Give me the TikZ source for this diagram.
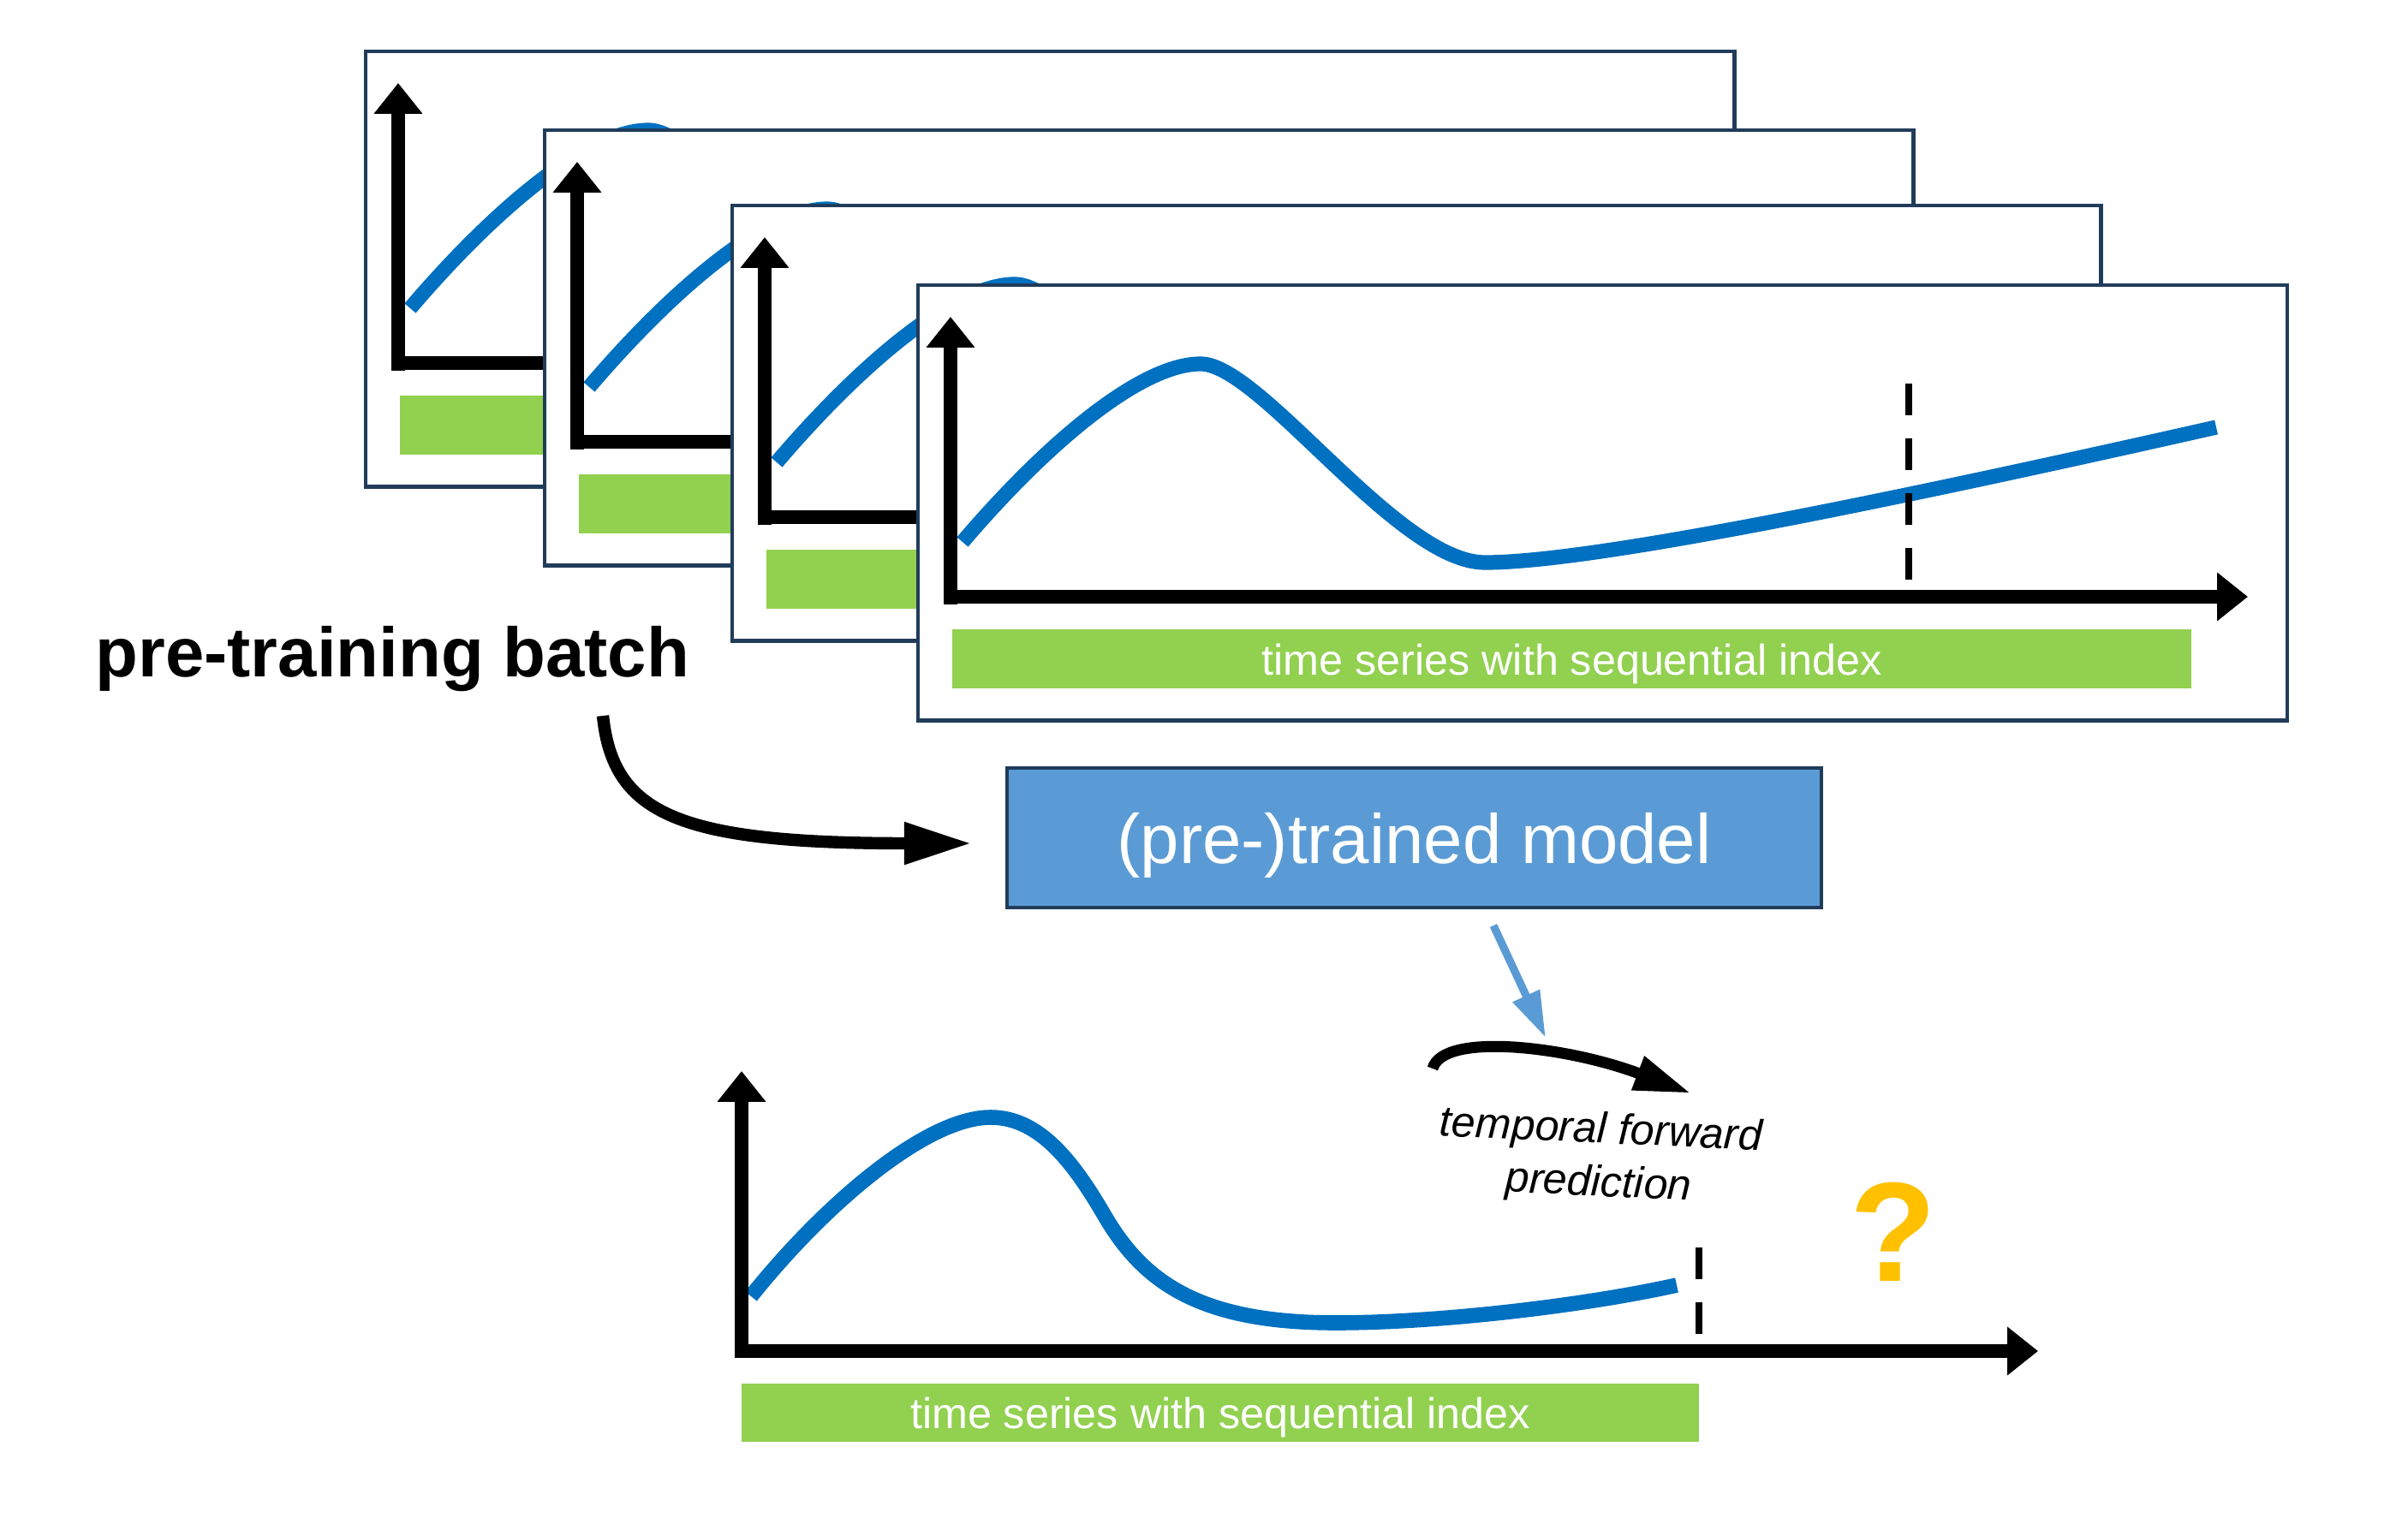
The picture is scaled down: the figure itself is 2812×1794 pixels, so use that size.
\documentclass[tikz,border=0pt]{standalone}
\usepackage{fontspec}
\setmainfont{Liberation Sans}
\usetikzlibrary{arrows.meta}
\definecolor{framecol}{RGB}{33,60,90}
\definecolor{curveblue}{HTML}{0070C0}
\definecolor{bargreen}{HTML}{92D050}
\definecolor{modelblue}{HTML}{5B9BD5}
\definecolor{qorange}{HTML}{FFC000}
\tikzset{
  panel/.style={draw=framecol, line width=1.4pt, fill=white, anchor=north west,
    minimum width=15.98cm, minimum height=5.08cm, inner sep=0pt, outer sep=0pt},
  axisline/.style={line width=4.8pt, -{Triangle[length=10.2pt,width=15.5pt]}},
  axislinebot/.style={line width=4.4pt, -{Triangle[length=10.2pt,width=15.5pt]}},
  series/.style={draw=curveblue, line width=4.9pt},
  barbox/.style={fill=bargreen, inner sep=0pt, text=white,
    font=\fontsize{14.3}{17}\selectfont, text height=0.50cm, text depth=0.13cm,
    minimum height=0.69cm},
  cutline/.style={line width=2.3pt, dash pattern=on 10.5pt off 7.7pt},
  modelbox/.style={fill=modelblue, draw=framecol, line width=1.2pt, text=white,
    font=\fontsize{23.2}{28}\selectfont, text height=0.8cm, text depth=0.2cm,
    minimum width=9.51cm, minimum height=1.63cm, inner sep=0pt},
  bigarrow/.style={line width=4.1pt, -{Triangle[length=22.5pt,width=13.1pt]}},
  fwdarrow/.style={line width=3.7pt, -{Triangle[length=19pt,width=11.1pt]}},
  bluearrow/.style={draw=modelblue, line width=2.6pt, -{Triangle[length=15.4pt,width=9.3pt]}},
}
\newcommand\drawpanel[2]{%
  \begin{scope}[shift={#1}]
    \node[panel] (frame#2) at (0,0) {};
    \draw[series] (52,300) .. controls (150,185) and (260,92) .. (330,92)
      .. controls (400,92) and (560,324) .. (662,324)
      .. controls (780,324) and (1100,260) .. (1516,166);
    \draw[cutline] (1157,115) -- (1157,345);
    \draw[axisline] (38,372.5) -- (38,37);
    \draw[axisline] (29.5,364) -- (1553,364);
    \node[barbox, minimum width=14.47cm] (bar#2) at (763.5,436.5) {time series with sequential index};
  \end{scope}}
\begin{document}
\begin{tikzpicture}[x=0.01cm, y=-0.01cm]
  \useasboundingbox (0,0) rectangle (2812,1794);
  % stacked batch panels
  \drawpanel{(427,60)}{a}
  \drawpanel{(636,152)}{b}
  \drawpanel{(855,240)}{c}
  \drawpanel{(1072,333)}{d}
  % label
  \node[anchor=base west, inner sep=0pt, font=\bfseries\fontsize{23.2}{28}\selectfont] (ptb) at (111,790) {pre-training batch};
  % model
  \node[modelbox] (model) at (1651.5,978.5) {(pre-)trained model};
  \coordinate (ptbtail) at (704,836);
  \coordinate (modelin) at (1135,985);
  \draw[bigarrow] (ptbtail) .. controls (716,950) and (790,985) .. (modelin);
  \coordinate (modelout) at (1744,1081);
  \coordinate (predin) at (1805,1212);
  \draw[bluearrow] (modelout) -- (predin);
  % forward prediction arrow and label
  \coordinate (fwdstart) at (1673,1248);
  \coordinate (fwdend) at (1975,1277);
  \draw[fwdarrow] (fwdstart) .. controls (1685,1205) and (1830,1222) .. (fwdend);
  \node[align=center, rotate=-2.6, inner sep=0pt, font=\itshape\fontsize{14.3}{17.6}\selectfont] (fwdlabel) at (1868,1353) {temporal forward\\prediction};
  % question mark
  \node[anchor=base, inner sep=0pt, text=qorange, font=\bfseries\fontsize{47}{56}\selectfont] (qmark) at (2211,1496) {?};
  % bottom chart
  \draw[series, line width=5pt] (877,1514) .. controls (960,1410) and (1080,1305) .. (1157,1305)
    .. controls (1215,1305) and (1255,1360) .. (1290,1420)
    .. controls (1335,1497) and (1400,1545) .. (1560,1545)
    .. controls (1680,1545) and (1850,1525) .. (1958,1501);
  \draw[cutline] (1984,1457) -- (1984,1559);
  \draw[axislinebot] (866,1585.5) -- (866,1251);
  \draw[axislinebot] (858.5,1578) -- (2380,1578);
  \node[barbox, minimum width=11.18cm, minimum height=0.68cm] (barbottom) at (1425,1650) {time series with sequential index};
\end{tikzpicture}
\end{document}
